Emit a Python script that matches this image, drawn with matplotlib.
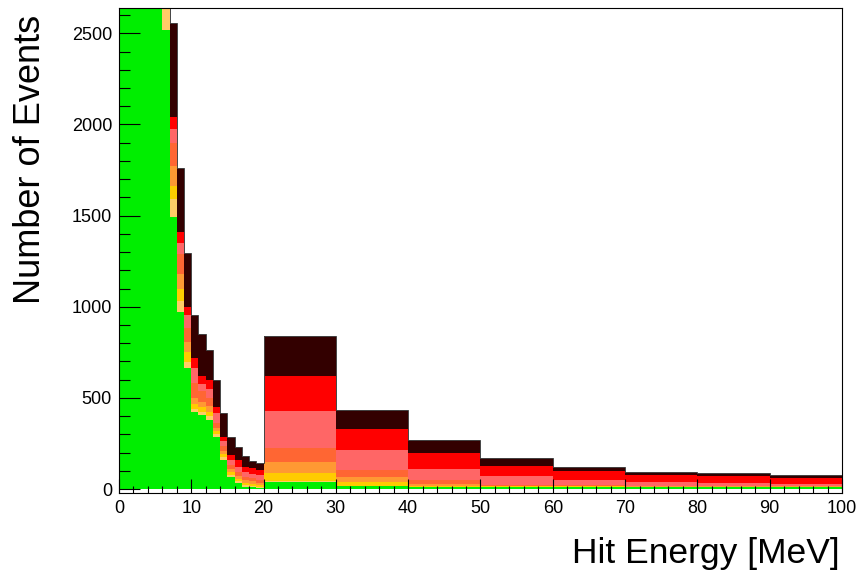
import numpy as np
import matplotlib
matplotlib.use("Agg")
import matplotlib.pyplot as plt

plt.rcParams['font.family'] = ['Liberation Sans', 'DejaVu Sans']

# bin edges: 1 MeV bins to 20, then 10 MeV bins to 100
edges = [0, 1, 2, 3, 4, 5, 6, 7, 8, 9, 10, 11, 12, 13, 14, 15, 16, 17, 18, 19, 20,
         30, 40, 50, 60, 70, 80, 90, 100]

# stacked components, bottom to top (events per bin)
green = [4000, 9000, 11000, 9500, 7000, 4500, 2518, 1492, 970, 662, 420, 405, 380, 285,
         160, 66, 33, 12, 10, 6, 40, 15, 12, 12, 11, 10, 10, 10]
lorange = [60, 90, 110, 100, 90, 80, 300, 98, 61, 36, 20, 20, 20, 15,
           15, 10, 9, 8, 7, 6, 5, 3, 1, 1, 1, 1, 1, 1]
gold = [50, 80, 90, 90, 80, 70, 100, 71, 68, 55, 25, 25, 25, 18,
        17, 16, 13, 12, 11, 10, 44, 19, 6, 2, 2, 1, 1, 1]
orange = [60, 90, 100, 100, 90, 80, 150, 110, 82, 55, 35, 30, 30, 17,
          18, 18, 17, 16, 14, 13, 57, 29, 10, 3, 3, 2, 2, 2]
dorange = [70, 100, 110, 110, 100, 90, 150, 128, 110, 74, 80, 60, 45, 27,
           25, 22, 23, 20, 18, 17, 77, 40, 19, 4, 5, 4, 3, 3]
salmon = [50, 70, 80, 80, 70, 60, 80, 75, 58, 73, 82, 35, 50, 55,
          27, 28, 25, 27, 25, 26, 205, 106, 62, 49, 27, 19, 14, 9]
red = [50, 70, 80, 80, 70, 60, 80, 66, 59, 45, 56, 45, 50, 34,
       25, 27, 39, 26, 30, 26, 192, 117, 86, 55, 50, 42, 40, 34]
brown = [300, 500, 600, 600, 500, 400, 500, 517, 352, 295, 237, 228, 162, 149,
         130, 98, 69, 62, 40, 36, 219, 103, 71, 42, 22, 16, 15, 15]

layers = [green, lorange, gold, orange, dorange, salmon, red, brown]
colors = ['#00ee00', '#ffcc66', '#ffcc00', '#ff9933', '#ff6633', '#ff6666', '#ff0000', '#330000']

edges = np.array(edges, dtype=float)
widths = np.diff(edges)

fig = plt.figure(figsize=(8.62, 5.74), dpi=100)
ax = fig.add_axes([0.138, 0.1417, 0.8388, 0.8438])

bottom = np.zeros(len(widths))
for vals, c in zip(layers, colors):
    vals = np.array(vals, dtype=float)
    ax.bar(edges[:-1], vals, width=widths, bottom=bottom, align='edge',
           color=c, linewidth=0)
    bottom = bottom + vals

# outline of the total
ax.stairs(bottom, edges, color='#444444', linewidth=0.7)

ax.set_xlim(0, 100)
ax.set_ylim(-20, 2637)

ax.set_xticks(np.arange(0, 101, 10))
ax.set_xticks(np.arange(0, 101, 2), minor=True)
ax.set_yticks(np.arange(0, 2501, 500))
ax.set_yticks(np.arange(0, 2601, 100), minor=True)

ax.tick_params(axis='x', which='major', direction='in', length=10, width=0.8, labelsize=13, pad=5)
ax.tick_params(axis='x', which='minor', direction='in', length=5, width=0.8)
ax.tick_params(axis='y', which='major', direction='in', length=15, width=0.8, labelsize=13, pad=5)
ax.tick_params(axis='y', which='minor', direction='in', length=8, width=0.8)

for s in ax.spines.values():
    s.set_linewidth(0.8)

# axis titles placed like the ROOT canvas
fig.text(840 / 862, 1 - 563 / 574, 'Hit Energy [MeV]', fontsize=25.5,
         ha='right', va='baseline')
fig.text(31 / 862, 1 - 159 / 574, 'Number of Events', fontsize=26,
         rotation=90, ha='center', va='center')

fig.savefig('out.png', dpi=100)
